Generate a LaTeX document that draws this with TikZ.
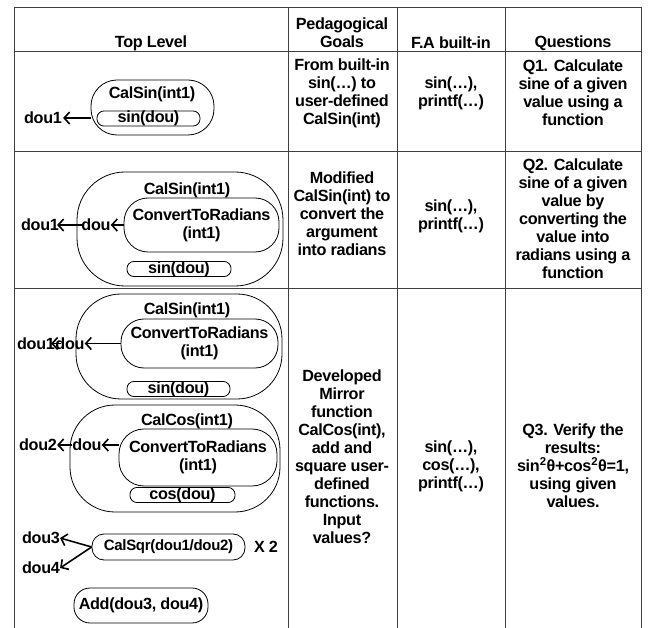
\documentclass[tikz,border=0pt]{standalone}
\usepackage{fontspec}
\setmainfont{Liberation Sans}[LetterSpace=-2]
\usetikzlibrary{arrows.meta}

\begin{document}
\begin{tikzpicture}[x=1pt,y=-1pt,
  every node/.style={font=\fontsize{16.2}{18}\selectfont\bfseries, inner sep=0pt},
  cell/.style={align=center},
  grid/.style={draw=black!75, line width=1pt},
  func/.style={draw=black, line width=0.8pt, rounded corners=#1},
  ret/.style={draw=black, line width=1.6pt, -{Straight Barb[length=5.5pt,width=12pt]}}]

\useasboundingbox (0,0) rectangle (651,628);
\fill[white] (0,0) rectangle (651,628);

% table rules
\draw[grid] (14,628) -- (14,8) -- (641,8) -- (641,628);
\foreach \cx in {288,397,505} \draw[grid] (\cx,8) -- (\cx,628);
\foreach \ry in {52,152,289} \draw[grid] (14,\ry) -- (641,\ry);

% header row
\node[cell] (hTop) at (151,43) {Top Level};
\node[cell] (hPed) at (342,33) {Pedagogical\\Goals};
\node[cell] (hFA)  at (451,43) {F.A built-in};
\node[cell] (hQ)   at (573,43) {Questions};

% row 1
\node[cell] (p1) at (342,93) {From built-in\\sin(…) to\\user-defined\\CalSin(int)};
\node[cell] (f1) at (451,93) {sin(…),\\printf(…)};
\node[cell] (q1) at (573,93) {Q1. Calculate\\sine of a given\\value using a\\function};

\node[func=26pt, minimum width=123pt, minimum height=55pt] (sinOuterA) at (152.5,107.5) {};
\node (calSinA) at (152,94) {CalSin(int1)};
\node[func=7pt, minimum width=103pt, minimum height=15pt] (sinA) at (148.5,118.5) {sin(dou)};
\node (dou1A) at (43,118) {dou1};
\draw[ret] (sinOuterA.west |- dou1A.east) -- ([xshift=1pt]dou1A.east);

% row 2
\node[cell] (p2) at (342,214) {Modified\\CalSin(int) to\\convert the\\argument\\into radians};
\node[cell] (f2) at (451,216) {sin(…),\\printf(…)};
\node[cell] (q2) at (573,219) {Q2. Calculate\\sine of a given\\value by\\converting the\\value into\\radians using a\\function};

\node[func=48pt, minimum width=206pt, minimum height=114pt] (sinOuterB) at (180,229) {};
\node (calSinB) at (187,190) {CalSin(int1)};
\node[cell, func=24pt, minimum width=155pt, minimum height=54pt] (ctrB) at (201.5,225) {ConvertToRadians\\(int1)};
\node[func=7pt, minimum width=104pt, minimum height=14pt] (sinB) at (179,269) {sin(dou)};
\node (douB) at (96,225) {dou};
\node (dou1B) at (40,225) {dou1};
\draw[ret] (ctrB.west) -- (douB.east);
\draw[ret] ([xshift=1pt]douB.west) -- ([xshift=-2pt]dou1B.east);

% row 3
\node[cell] (p3) at (342,457) {Developed\\Mirror\\function\\CalCos(int),\\add and\\square user-\\defined\\functions.\\Input\\values?};
\node[cell] (f3) at (451,466) {sin(…),\\cos(…),\\printf(…)};
\node[cell] (q3) at (573,466) {Q3. Verify the\\results:\\sin\textsuperscript{2}θ+cos\textsuperscript{2}θ=1,\\using given\\values.};

% CalSin block
\node[func=45pt, minimum width=206pt, minimum height=105pt] (sinOuterC) at (179,346.5) {};
\node (calSinC) at (187,310) {CalSin(int1)};
\node[cell, func=23pt, minimum width=157pt, minimum height=49pt] (ctrC) at (199.5,343.5) {ConvertToRadians\\(int1)};
\node[func=7pt, minimum width=103pt, minimum height=14pt] (sinC) at (178.5,389) {sin(dou)};
\node (douC) at (70,343.5) {dou};
\node (dou1C) at (36,343.5) {dou1};
\draw[ret] (ctrC.west) -- (douC.east);
\draw[ret] ([xshift=6pt]douC.west) -- ([xshift=-4pt]dou1C.east);

% CalCos block
\node[func=45pt, minimum width=210pt, minimum height=107pt] (cosOuter) at (175,458.5) {};
\node (calCos) at (187,421) {CalCos(int1)};
\node[cell, func=25pt, minimum width=158pt, minimum height=57pt] (ctrD) at (198,457.5) {ConvertToRadians\\(int1)};
\node[func=7pt, minimum width=105pt, minimum height=14pt] (cosD) at (182.5,495) {cos(dou)};
\node (douD) at (87,445) {dou};
\node (dou2D) at (38,445) {dou2};
\draw[ret] (douD.east -| ctrD.west) -- (douD.east);
\draw[ret] (douD.west) -- (dou2D.east);

% square and add
\node[func=12pt, minimum width=153pt, minimum height=26pt, font=\fontsize{15}{18}\selectfont\bfseries] (sqr) at (168.5,547) {CalSqr(dou1/dou2)};
\node (x2) at (266,547) {X 2};
\node (dou3) at (41,538) {dou3};
\node (dou4) at (41,568) {dou4};
\draw[ret] (sqr.west) -- (dou3.east);
\draw[ret] (sqr.west) -- (dou4.east);
\node[func=16pt, minimum width=134pt, minimum height=35pt] (add) at (141,605.5) {Add(dou3, dou4)};

\end{tikzpicture}
\end{document}
